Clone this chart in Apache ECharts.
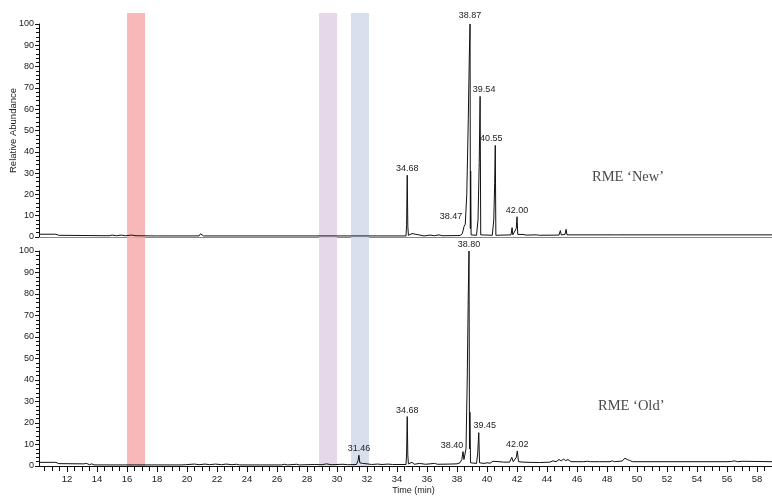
<!DOCTYPE html>
<html>
<head>
<meta charset="utf-8">
<script src="https://cdn.jsdelivr.net/npm/echarts@6/dist/echarts.min.js"></script>
<style>html,body{margin:0;padding:0;background:#fff}#c{width:772px;height:496px}</style>
</head>
<body>
<div id="c"></div>
<script>
// ---- data ----
const xMin = 10.13, xMax = 59;
const xTickLabels = [12,14,16,18,20,22,24,26,28,30,32,34,36,38,40,42,44,46,48,50,52,54,56,58];
const yTickLabels = [0,10,20,30,40,50,60,70,80,90,100];
const bands = [[16.0,17.2],[28.8,30.0],[30.93,32.13]];

const newTrace = [
[10.13,1.3],[11.25,1.3],[11.35,2.0],[11.45,0.8],[13.0,0.7],[14.8,0.6],[15.0,0.9],[15.3,0.6],[15.6,0.9],[15.9,0.6],
[16.3,0.9],[16.6,0.6],[17.9,0.5],[18.0,1.0],[18.1,0.5],[20.8,0.5],[20.9,1.5],[21.0,1.5],[21.1,0.5],
[30.6,0.5],[30.65,1.1],[30.7,0.5],[32.6,0.5],[32.67,1.0],[32.75,0.5],
[34.6,0.5],[34.64,6],[34.68,29],[34.72,5],[34.76,0.8],[35.0,1.6],[35.1,0.7],[35.6,0.8],[35.8,0.5],[36.2,0.9],[36.5,0.6],[36.8,1.0],[37.0,0.6],
[38.2,0.7],[38.35,1.5],[38.47,5],[38.55,6],[38.65,20],[38.75,55],[38.82,85],[38.87,100],[38.89,4],[38.91,31],[38.94,1],
[39.3,0.8],[39.4,8],[39.48,35],[39.54,66],[39.58,1],[40.35,0.8],[40.45,8],[40.51,25],[40.55,43],[40.59,0.8],
[41.6,1],[41.67,4.4],[41.72,1],[41.85,1.2],[41.95,4],[42.0,9.5],[42.05,1.2],[42.4,1.2],[42.6,0.9],[43.3,1],[43.5,0.8],
[44.8,0.9],[44.89,3],[44.95,1],[45.2,1.2],[45.27,3.6],[45.33,1],[48.5,1],[48.6,1.4],[48.7,1],[49.0,1],[49.1,1.5],[49.2,1],
[49.6,1],[49.7,1.4],[49.8,1],[59,1]
];

const oldTrace = [
[10.13,1.7],[11.25,1.7],[11.35,2.6],[11.45,1.1],[13.1,1.0],[13.2,0.6],[13.3,1.2],[13.5,0.6],[13.65,1.0],[13.8,0.5],
[16.5,0.5],[16.6,1.0],[16.7,0.5],[18.0,0.5],[18.1,1.3],[18.2,0.5],[19.6,0.5],[19.7,0.9],[19.9,0.6],[20.5,0.9],[20.8,0.6],
[21.2,0.9],[21.5,0.6],[21.9,0.9],[22.3,0.6],[22.6,0.9],[23.0,0.6],[23.3,0.8],[23.5,0.5],[24.9,0.5],[25.0,0.9],[25.2,0.5],
[26.3,0.5],[26.5,0.8],[26.7,0.5],[27.3,0.8],[27.5,0.5],[28.5,0.7],[29.0,0.6],[29.3,1.0],[29.6,0.6],[30.4,0.8],[30.7,0.6],
[31.3,0.7],[31.4,2.5],[31.46,5],[31.52,1.5],[31.7,1.2],[32.0,1.0],[32.3,0.7],[32.7,0.9],[33.0,0.7],[33.4,0.9],[33.7,0.7],
[34.6,0.7],[34.64,6],[34.68,23],[34.72,5],[34.76,1],[35.0,1.7],[35.15,0.8],[35.5,1.2],[35.9,0.8],[36.2,1.0],[36.5,1.2],[36.7,0.8],
[37.5,0.9],[38.0,1.0],[38.2,1.5],[38.32,3],[38.40,6.7],[38.46,3],[38.5,3],[38.6,8],[38.68,40],[38.75,80],[38.80,100],
[38.83,8],[38.86,25],[38.9,1.5],[39.3,1.2],[39.38,6],[39.45,15.5],[39.5,1.5],[39.8,1.2],[40.0,1.5],[40.2,1.3],[40.4,2.2],
[40.5,1.5],[40.8,2],[41.1,1.8],[41.5,1.8],[41.65,4],[41.75,2],[41.85,2.2],[41.95,4],[42.02,7],[42.1,2],[42.4,1.8],[42.8,1.7],
[43.5,1.6],[44.2,1.8],[44.4,2.4],[44.6,2.0],[44.8,3.0],[44.95,2.4],[45.1,3.2],[45.25,2.5],[45.4,3],[45.6,2],[46.2,2],
[46.3,2.6],[46.45,2],[46.7,2.2],[46.9,2],[47.5,2],[47.6,2.5],[47.8,2],[48.2,2],[48.35,2.4],[48.5,2],[49.0,2.3],[49.2,3.6],
[49.35,3],[49.5,2.6],[49.7,2],[50.4,2],[50.5,2.3],[50.6,2],[51.8,2],[51.9,2.4],[52.0,2],[56.0,2],[56.1,2.4],[56.3,2.1],
[56.5,2.4],[56.7,2],[57.0,2.2],[57.1,2],[59,2]
];

const newPeaks = [[34.68,29,'34.68'],[38.47,5,'38.47'],[38.87,100,'38.87'],[39.54,66,'39.54'],[40.55,43,'40.55'],[42.00,9.5,'42.00']];
const oldPeaks = [[31.46,5,'31.46'],[34.68,23,'34.68'],[38.40,6.7,'38.40'],[38.80,100,'38.80'],[39.45,15.5,'39.45'],[42.02,7,'42.02']];
const sampleNames = ['RME \u2018New\u2019','RME \u2018Old\u2019'];

// ---- styles / layout ----
const bandColors = ['rgba(245,172,172,0.85)','rgba(226,212,230,0.9)','rgba(214,221,236,0.95)'];
const newOffsets = {'38.47':[-13,-3],'38.87':[0,-2],'39.54':[4,0],'40.55':[-4,0]};
const oldOffsets = {'38.40':[-11,0],'39.45':[6,-1]};
const minorTicks = [];
for (let v = 10.5; v <= 59.001; v += 0.5) if (v % 2 !== 0) minorTicks.push(v);
const FONT = 'Liberation Sans';

function peakMarks(peaks, offs){
  return {
    symbol: 'circle', symbolSize: 0, silent: true,
    itemStyle: {color: 'transparent'},
    label: {show: true, position: 'top', distance: 2, color: '#222', fontSize: 9, fontFamily: FONT,
            formatter: p => p.name},
    data: peaks.map(p => ({name: p[2], coord: [p[0], p[1]], label: {offset: offs[p[2]] || [0,0]}}))
  };
}

function yAx(gi, showName){
  return {
    gridIndex: gi, type: 'value', min: 0, max: 100, interval: 10,
    name: showName ? 'Relative Abundance' : '', nameLocation: 'middle', nameGap: 21, nameMoveOverlap: false,
    nameTextStyle: {fontFamily: FONT, fontSize: 9.5, color: '#222'},
    axisLine: {show: true, lineStyle: {color: '#111', width: 1}},
    axisTick: {show: true, length: 4, lineStyle: {color: '#111'}},
    minorTick: {show: true, splitNumber: 5, length: 3, lineStyle: {color: '#111'}},
    axisLabel: {fontFamily: FONT, fontSize: 9, color: '#222', margin: 5},
    splitLine: {show: false}
  };
}

const gridBase = {left: 39, right: 0, containLabel: false, outerBoundsMode: 'none'};
const chart = echarts.init(document.getElementById('c'), null, {renderer: 'canvas'});
chart.setOption({
  animation: false,
  backgroundColor: '#fff',
  grid: [
    Object.assign({top: 13, bottom: 30}, gridBase),
    Object.assign({top: 24, height: 213}, gridBase),
    Object.assign({top: 251, height: 215}, gridBase)
  ],
  xAxis: [
    {gridIndex: 0, type: 'value', min: xMin, max: xMax, show: false},
    {gridIndex: 1, type: 'value', min: xMin, max: xMax,
     axisLine: {show: true, lineStyle: {color: '#888', width: 1.2}}, axisTick: {show: false},
     axisLabel: {show: false}, splitLine: {show: false}},
    {gridIndex: 2, type: 'value', min: xMin, max: xMax,
     name: 'Time (min)', nameLocation: 'middle', nameGap: 20, nameMoveOverlap: false,
     nameTextStyle: {fontFamily: FONT, fontSize: 9, color: '#222', padding: [0,0,0,16]},
     axisLine: {show: true, lineStyle: {color: '#111', width: 1}},
     axisTick: {show: true, length: 6, customValues: xTickLabels, lineStyle: {color: '#111'}},
     axisLabel: {show: true, customValues: xTickLabels, fontFamily: FONT, fontSize: 9.5, color: '#222', margin: 8},
     splitLine: {show: false}},
    {gridIndex: 2, type: 'value', min: xMin, max: xMax, position: 'bottom',
     axisLine: {show: false}, axisLabel: {show: false}, splitLine: {show: false},
     axisTick: {show: true, length: 5, customValues: minorTicks, lineStyle: {color: '#111'}}}
  ],
  yAxis: [
    {gridIndex: 0, type: 'value', min: 0, max: 1, show: false},
    yAx(1, true),
    yAx(2, false)
  ],
  series: [
    {type: 'line', xAxisIndex: 0, yAxisIndex: 0, data: [], z: 0, silent: true,
     markArea: {silent: true, data: bands.map((b, i) => [{xAxis: b[0], itemStyle: {color: bandColors[i]}}, {xAxis: b[1]}])}},
    {type: 'line', xAxisIndex: 1, yAxisIndex: 1, data: newTrace, showSymbol: false, z: 3,
     lineStyle: {color: '#111', width: 1}, markPoint: peakMarks(newPeaks, newOffsets)},
    {type: 'line', xAxisIndex: 2, yAxisIndex: 2, data: oldTrace, showSymbol: false, z: 3,
     lineStyle: {color: '#111', width: 1}, markPoint: peakMarks(oldPeaks, oldOffsets)}
  ],
  graphic: [
    {type: 'text', left: 592, top: 170, style: {text: sampleNames[0], fontFamily: 'Liberation Serif', fontSize: 14.5, fill: '#4a4a4a'}},
    {type: 'text', left: 598, top: 399, style: {text: sampleNames[1], fontFamily: 'Liberation Serif', fontSize: 14.5, fill: '#4a4a4a'}}
  ]
});
</script>
</body>
</html>
